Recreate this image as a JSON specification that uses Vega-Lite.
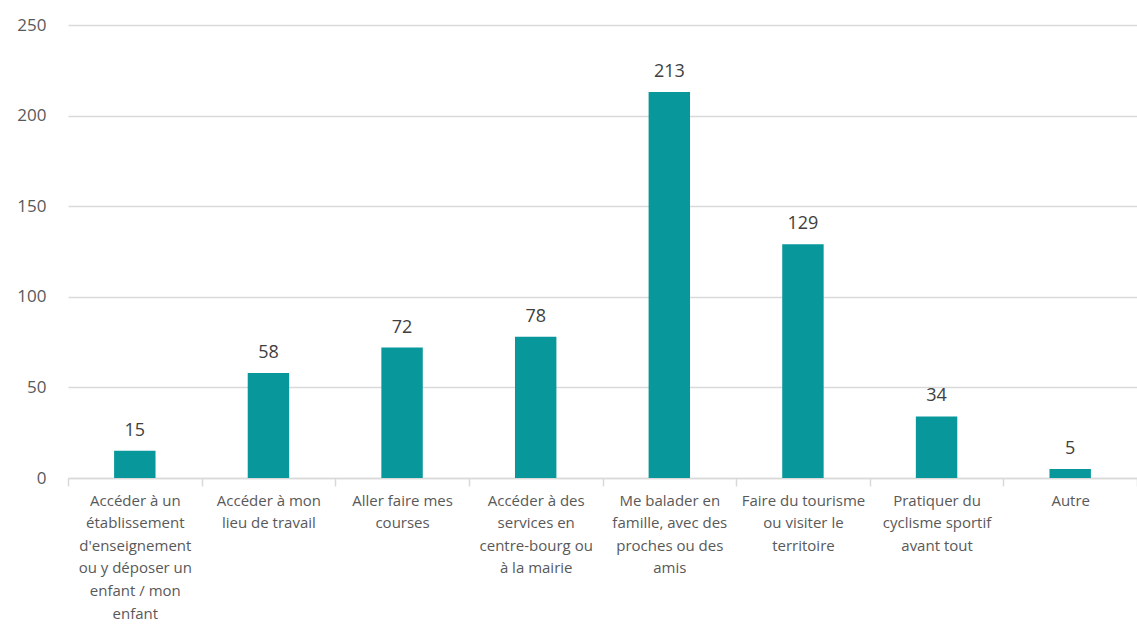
{
  "$schema": "https://vega.github.io/schema/vega-lite/v6.json",
  "autosize": {"type": "none"},
  "width": 1069,
  "height": 453,
  "padding": {"left": 68, "top": 25, "right": 0, "bottom": 147},
  "background": "white",
  "config": {"view": {"stroke": null}, "font": "Open Sans"},
  "data": {"values": [
    {"cat": "Accéder à un|établissement|d'enseignement|ou y déposer un|enfant / mon|enfant", "n": 15},
    {"cat": "Accéder à mon|lieu de travail", "n": 58},
    {"cat": "Aller faire mes|courses", "n": 72},
    {"cat": "Accéder à des|services en|centre-bourg ou|à la mairie", "n": 78},
    {"cat": "Me balader en|famille, avec des|proches ou des|amis", "n": 213},
    {"cat": "Faire du tourisme|ou visiter le|territoire", "n": 129},
    {"cat": "Pratiquer du|cyclisme sportif|avant tout", "n": 34},
    {"cat": "Autre", "n": 5}
  ]},
  "encoding": {
    "x": {"field": "cat", "type": "nominal", "sort": null,
      "scale": {"paddingInner": 0, "paddingOuter": 0},
      "axis": {"title": null, "labelAngle": 0, "labelExpr": "split(datum.label, '|')",
        "labelFont": "Open Sans", "labelFontSize": 15, "labelColor": "#595959", "labelLineHeight": 22.6,
        "labelPadding": 7, "labelLimit": 200, "labelBaseline": "top",
        "domainColor": "#d9d9d9", "domainWidth": 1.5, "tickColor": "#d9d9d9", "tickSize": 8, "tickWidth": 1.5,
        "tickBand": "extent", "grid": false}},
    "y": {"field": "n", "type": "quantitative",
      "scale": {"domain": [0, 250], "nice": false},
      "axis": {"title": null, "values": [0, 50, 100, 150, 200, 250], "domain": false, "ticks": false,
        "labelFont": "Open Sans", "labelFontSize": 17, "labelColor": "#595959", "labelPadding": 22,
        "gridColor": "#d9d9d9", "gridWidth": 1.5}}
  },
  "layer": [
    {"mark": {"type": "bar", "color": "#08979b", "width": {"band": 0.31}}},
    {"mark": {"type": "text", "baseline": "bottom", "dy": -11, "fontSize": 18, "color": "#404040", "font": "Open Sans"},
      "encoding": {"text": {"field": "n", "type": "quantitative"}}}
  ]
}
